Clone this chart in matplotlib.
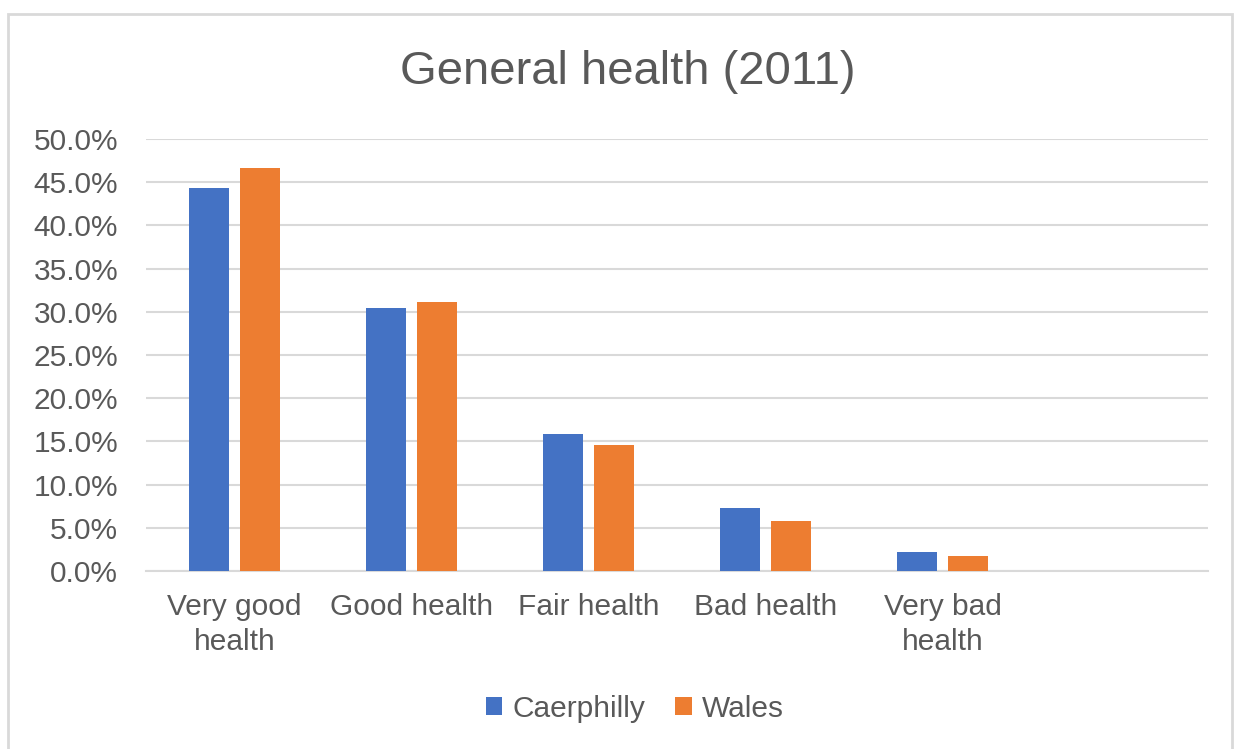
import numpy as np
import matplotlib.pyplot as plt
from matplotlib.patches import Rectangle

plt.rcParams['font.family'] = ['Liberation Sans', 'DejaVu Sans']

categories = ['Very good\nhealth', 'Good health', 'Fair health', 'Bad health', 'Very bad\nhealth', '']
caerphilly = [44.3, 30.4, 15.9, 7.3, 2.2, np.nan]
wales = [46.6, 31.1, 14.6, 5.8, 1.7, np.nan]
yticks = np.arange(0, 55, 5)

text_col = '#595959'
grid_col = '#d9d9d9'

fig = plt.figure(figsize=(12.35, 7.49), dpi=100)
# outer chart frame
fig.patches.append(Rectangle((8 / 1235, -0.01), 1224 / 1235, 1 - 14 / 749 + 0.01,
                             transform=fig.transFigure, fill=False,
                             edgecolor='#d9d9d9', linewidth=2))

ax = fig.add_axes([146 / 1235, 1 - 571 / 749, 1062 / 1235, 432 / 749])
x = np.arange(len(categories))
w = 0.225
off = 0.144
ax.bar(x - off, caerphilly, w, color='#4472c4', label='Caerphilly', zorder=3)
ax.bar(x + off, wales, w, color='#ed7d31', label='Wales', zorder=3)

ax.set_xlim(-0.5, len(categories) - 0.5)
ax.set_ylim(0, 50)
ax.set_yticks(yticks)
ax.set_yticklabels(['%.1f%%' % v for v in yticks])
ax.set_xticks(x)
ax.set_xticklabels(categories, linespacing=1.3)
ax.tick_params(axis='both', length=0, labelsize=21.5, colors=text_col)
ax.tick_params(axis='x', pad=16)
ax.tick_params(axis='y', pad=20)
ax.grid(axis='y', color=grid_col, linewidth=1.5, zorder=0)
for s in ['top', 'right', 'left']:
    ax.spines[s].set_visible(False)
ax.spines['bottom'].set_color(grid_col)
ax.spines['bottom'].set_linewidth(1.5)

fig.text(628 / 1235, 1 - 72 / 749, 'General health (2011)', ha='center', va='center',
         fontsize=34, color=text_col)

fig.legend(loc='center', bbox_to_anchor=(635 / 1235, 1 - 709 / 749), ncol=2,
           frameon=False, fontsize=21.5, labelcolor=text_col, handlelength=0.55,
           handleheight=0.55, handletextpad=0.35, columnspacing=1.0)

fig.savefig('out.png', dpi=100)
